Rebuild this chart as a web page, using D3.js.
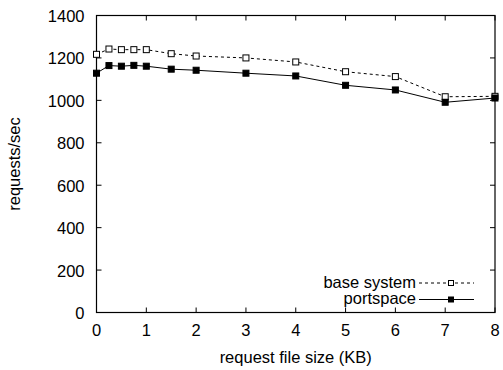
<!DOCTYPE html>
<html>
<head>
<meta charset="utf-8">
<script src="https://cdn.jsdelivr.net/npm/d3@7"></script>
<style>
  body { margin: 0; background: #fff; }
  text { font-family: "Liberation Sans", Arial, sans-serif; font-size: 16.5px; fill: #000; }
</style>
</head>
<body>
<svg id="chart" width="503" height="370"></svg>
<script>
const sizes = [0, 0.25, 0.5, 0.75, 1, 1.5, 2, 3, 4, 5, 6, 7, 8];
const baseSystem = [1217, 1242, 1239, 1239, 1239, 1220, 1209, 1200, 1181, 1135, 1112, 1017, 1019];
const portspace = [1128, 1164, 1161, 1165, 1161, 1147, 1142, 1128, 1115, 1071, 1049, 991, 1011];
const xTicks = [0, 1, 2, 3, 4, 5, 6, 7, 8];
const yTicks = [0, 200, 400, 600, 800, 1000, 1200, 1400];

const svg = d3.select('#chart');
const m = { left: 96.5, right: 495, top: 15.5, bottom: 312.5 };

const x = d3.scaleLinear().domain([0, 8]).range([m.left, m.right]);
const y = d3.scaleLinear().domain([0, 1400]).range([m.bottom, m.top]);

// ticks (inward, mirrored on all sides)
const tl = 5;
const g = svg.append('g');
xTicks.forEach(t => {
  g.append('line').attr('x1', x(t)).attr('x2', x(t)).attr('y1', m.bottom).attr('y2', m.bottom - tl).attr('stroke', '#000');
  g.append('line').attr('x1', x(t)).attr('x2', x(t)).attr('y1', m.top).attr('y2', m.top + tl).attr('stroke', '#000');
  g.append('text').attr('x', x(t)).attr('y', 336).attr('text-anchor', 'middle').text(t);
});
yTicks.forEach(t => {
  g.append('line').attr('x1', m.left).attr('x2', m.left + tl).attr('y1', y(t)).attr('y2', y(t)).attr('stroke', '#000');
  g.append('line').attr('x1', m.right).attr('x2', m.right - tl).attr('y1', y(t)).attr('y2', y(t)).attr('stroke', '#000');
  g.append('text').attr('x', 84.5).attr('y', y(t) + 6.5).attr('text-anchor', 'end').text(t);
});

svg.append('rect')
  .attr('x', m.left).attr('y', m.top)
  .attr('width', m.right - m.left).attr('height', m.bottom - m.top)
  .attr('fill', 'none').attr('stroke', '#000').attr('stroke-width', 1.2);

svg.append('text')
  .attr('transform', 'translate(20,164) rotate(-90)')
  .attr('text-anchor', 'middle')
  .text('requests/sec');

svg.append('text')
  .attr('x', (m.left + m.right) / 2).attr('y', 363)
  .attr('text-anchor', 'middle')
  .text('request file size (KB)');

const line = d3.line().x(d => x(d[0])).y(d => y(d[1]));

const series = [
  { name: 'base system', values: baseSystem, dash: '3,3', fill: '#fff', ly: 283 },
  { name: 'portspace', values: portspace, dash: null, fill: '#000', ly: 299.5 }
];

series.forEach(s => {
  const pts = sizes.map((v, i) => [v, s.values[i]]);
  svg.append('path')
    .attr('d', line(pts))
    .attr('fill', 'none')
    .attr('stroke', '#000')
    .attr('stroke-width', 1)
    .attr('stroke-dasharray', s.dash);
  svg.selectAll(null).data(pts).enter().append('rect')
    .attr('x', d => x(d[0]) - 3).attr('y', d => y(d[1]) - 3)
    .attr('width', 6).attr('height', 6)
    .attr('fill', s.fill).attr('stroke', '#000').attr('stroke-width', 1);

  // legend
  svg.append('text').attr('x', 416).attr('y', s.ly + 4.5).attr('text-anchor', 'end').text(s.name);
  svg.append('line').attr('x1', 419).attr('x2', 474).attr('y1', s.ly).attr('y2', s.ly)
    .attr('stroke', '#000').attr('stroke-dasharray', s.dash);
  svg.append('rect').attr('x', 448.5).attr('y', s.ly - 2.5).attr('width', 5).attr('height', 5)
    .attr('fill', s.fill).attr('stroke', '#000');
});
</script>
</body>
</html>
